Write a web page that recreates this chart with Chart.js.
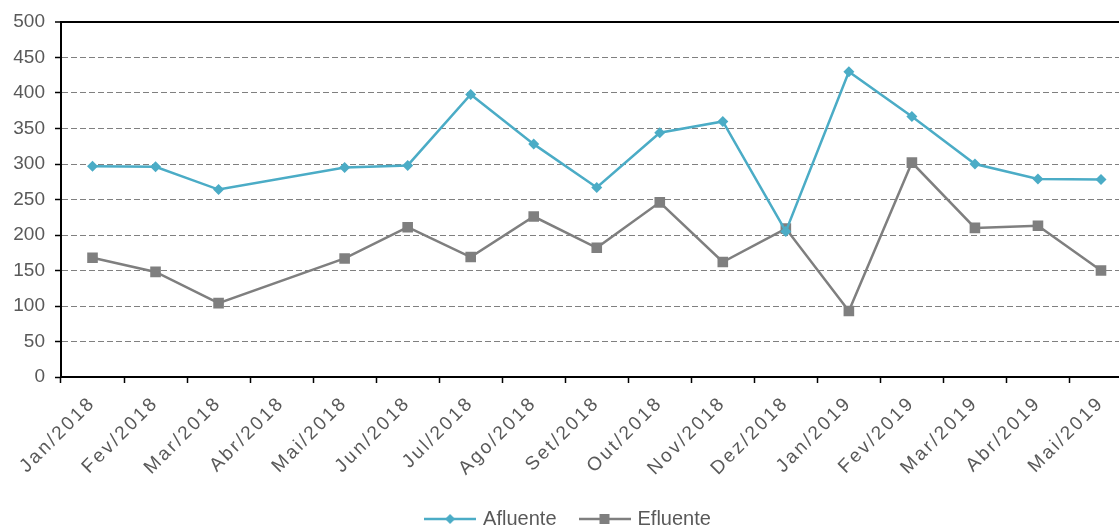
<!DOCTYPE html>
<html>
<head>
<meta charset="utf-8">
<script src="https://cdn.jsdelivr.net/npm/chart.js@4/dist/chart.umd.min.js"></script>
<style>
  html, body { margin: 0; padding: 0; background: #fff; overflow: hidden; }
  #wrap { width: 1140px; height: 539px; position: relative; }
</style>
</head>
<body>
<div id="wrap"><canvas id="chart"></canvas></div>
<script>
// Data
const months = ['Jan/2018', 'Fev/2018', 'Mar/2018', 'Abr/2018', 'Mai/2018', 'Jun/2018',
    'Jul/2018', 'Ago/2018', 'Set/2018', 'Out/2018', 'Nov/2018', 'Dez/2018',
    'Jan/2019', 'Fev/2019', 'Mar/2019', 'Abr/2019', 'Mai/2019'];
const afluente = [297, 296, 264, null, 295, 298, 398, 328, 267, 344, 360, 205, 430, 367, 300, 279, 278];
const efluente = [168, 148, 104, null, 167, 211, 169, 226, 182, 246, 162, 209, 93, 302, 210, 213, 150];
const yTicks = { min: 0, max: 500, step: 50 };

const tealColor = '#4bacc6';
const grayColor = '#7f7f7f';
const textColor = '#595959';

// Legend symbol: short line with the marker in the middle
function legendSymbol(color, style) {
    const c = document.createElement('canvas');
    c.width = 52;
    c.height = 14;
    const g = c.getContext('2d');
    g.strokeStyle = color;
    g.lineWidth = 2.5;
    g.beginPath();
    g.moveTo(0, 7);
    g.lineTo(52, 7);
    g.stroke();
    g.fillStyle = color;
    if (style === 'diamond') {
        g.beginPath();
        g.moveTo(26, 2);
        g.lineTo(31, 7);
        g.lineTo(26, 12);
        g.lineTo(21, 7);
        g.closePath();
        g.fill();
    } else {
        g.fillRect(21, 2, 10, 10);
    }
    return c;
}

// Wider letter spacing on the month labels
const spacedLabels = {
    id: 'spacedLabels',
    afterLayout(chart) {
        const s = chart.scales.x;
        if (s._spaced) return;
        const orig = s.drawLabels.bind(s);
        s.drawLabels = (area) => {
            chart.ctx.save();
            chart.ctx.letterSpacing = '2.5px';
            orig(area);
            chart.ctx.restore();
        };
        s._spaced = true;
    }
};

const ctx = document.getElementById('chart').getContext('2d');
new Chart(ctx, {
    type: 'line',
    data: {
        labels: months,
        datasets: [{
            label: 'Afluente',
            data: afluente,
            borderColor: tealColor,
            backgroundColor: tealColor,
            borderWidth: 2.5,
            pointStyle: 'rectRot',
            pointRadius: 5.5,
            pointBorderWidth: 0,
            spanGaps: true,
            tension: 0
        }, {
            label: 'Efluente',
            data: efluente,
            borderColor: grayColor,
            backgroundColor: grayColor,
            borderWidth: 2.5,
            pointStyle: 'rect',
            pointRadius: 7.5,
            pointBorderWidth: 0,
            spanGaps: true,
            tension: 0
        }]
    },
    options: {
        responsive: true,
        maintainAspectRatio: false,
        animation: false,
        layout: { padding: { top: 22, right: 2, left: 0, bottom: 0 } },
        plugins: {
            tooltip: { enabled: false },
            legend: {
                position: 'bottom',
                fullSize: true,
                labels: {
                    usePointStyle: true,
                    pointStyleWidth: 46,
                    padding: 25,
                    color: textColor,
                    font: { family: 'Liberation Sans, Arial, sans-serif', size: 20 },
                    generateLabels(chart) {
                        return chart.data.datasets.map((ds, i) => ({
                            text: ds.label,
                            fontColor: textColor,
                            pointStyle: legendSymbol(ds.borderColor, i === 0 ? 'diamond' : 'square'),
                            fillStyle: ds.borderColor,
                            strokeStyle: ds.borderColor,
                            lineWidth: 0,
                            hidden: false,
                            datasetIndex: i
                        }));
                    }
                }
            }
        },
        scales: {
            x: {
                offset: true,
                afterFit(scale) {
                    scale.height = 107;
                    scale.paddingLeft = 0;
                    scale.paddingRight = 0;
                },
                grid: {
                    offset: true,
                    drawOnChartArea: false,
                    drawTicks: true,
                    tickLength: 6,
                    tickColor: '#000',
                    tickWidth: 1.5
                },
                border: { display: true, color: '#000', width: 2 },
                ticks: {
                    autoSkip: false,
                    maxRotation: 45,
                    minRotation: 45,
                    padding: 9,
                    color: textColor,
                    font: { family: 'Liberation Sans, Arial, sans-serif', size: 19 }
                }
            },
            y: {
                min: yTicks.min,
                max: yTicks.max,
                afterFit(scale) { scale.width = 61; },
                grid: {
                    color: (c) => c.tick && c.tick.value === yTicks.max ? '#000'
                        : (c.tick && c.tick.value === yTicks.min ? 'rgba(0,0,0,0)' : '#808080'),
                    lineWidth: (c) => c.tick && c.tick.value === yTicks.max ? 2 : 1,
                    drawTicks: true,
                    tickLength: 6,
                    tickColor: '#000',
                    tickWidth: 1.5
                },
                border: {
                    display: true,
                    color: '#000',
                    width: 2,
                    dash: (c) => c.tick && c.tick.value === yTicks.max ? [] : [6, 3]
                },
                ticks: {
                    stepSize: yTicks.step,
                    padding: 10,
                    color: textColor,
                    font: { family: 'Liberation Sans, Arial, sans-serif', size: 19 }
                }
            }
        }
    },
    plugins: [spacedLabels]
});
</script>
</body>
</html>
